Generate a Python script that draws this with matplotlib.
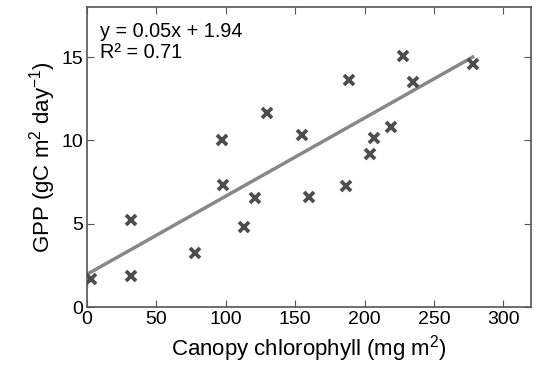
import numpy as np
import matplotlib
matplotlib.use("Agg")
import matplotlib.pyplot as plt

plt.rcParams['font.family'] = ['Liberation Sans', 'DejaVu Sans']
plt.rcParams['mathtext.fontset'] = 'custom'
plt.rcParams['mathtext.rm'] = 'Liberation Sans'
plt.rcParams['mathtext.it'] = 'Liberation Sans'

# canopy chlorophyll (mg m2) vs GPP
chl = [3, 32, 32, 78, 97, 98, 113, 121, 130, 155, 160, 187, 189, 204, 207, 219, 228, 235, 278]
gpp = [1.7, 1.85, 5.25, 3.25, 10.05, 7.35, 4.78, 6.55, 11.65, 10.33, 6.58, 7.27, 13.65,
       9.17, 10.13, 10.81, 15.05, 13.53, 14.61]

# regression line as drawn in the figure
slope = 0.0469
intercept = 1.96
eq_text = "y = 0.05x + 1.94\nR² = 0.71"

x = np.array(chl)
y = np.array(gpp)
xl = np.array([1.7, x.max()])

fig = plt.figure(figsize=(5.39, 3.65), dpi=100)
ax = fig.add_axes([87/539, 1 - 307/365, 444/539, 300/365])

ax.plot(xl, slope*xl + intercept, color='#888888', lw=2.5, zorder=2)
ax.plot(x, y, 'x', color='#4d4d4d', ms=6.5, mew=2.7, zorder=3)

ax.set_xlim(0, 320)
ax.set_ylim(0, 18)
ax.set_xticks([0, 50, 100, 150, 200, 250, 300])
ax.set_yticks([0, 5, 10, 15])
ax.tick_params(direction='in', top=True, right=True, labelsize=14, length=5,
               color='#555555', pad=3)
for s in ax.spines.values():
    s.set_color('#555555')
    s.set_linewidth(1.2)

ax.set_xlabel(r"Canopy chlorophyll (mg m$^{2}$)", fontsize=16, labelpad=3.5)
ax.set_ylabel(r"GPP (gC m$^{2}$ day$^{-1}$)", fontsize=16, labelpad=2)
ax.text(0.03, 0.95, eq_text, transform=ax.transAxes, fontsize=14.3,
        va='top', ha='left', linespacing=1.12)

fig.savefig("out.png", dpi=100)
